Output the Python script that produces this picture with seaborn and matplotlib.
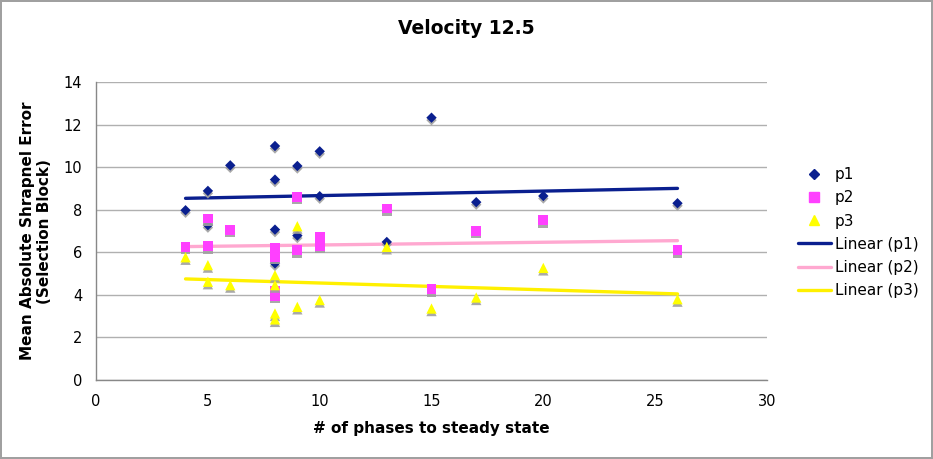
import matplotlib
matplotlib.use("Agg")
import matplotlib.pyplot as plt
import matplotlib.patheffects as pe
from matplotlib.lines import Line2D
import seaborn as sns
import pandas as pd

# ---- data ----
p1_x = [4, 5, 5, 6, 8, 8, 8, 8, 9, 9, 10, 10, 13, 15, 17, 20, 26]
p1_y = [7.98, 8.89, 7.28, 10.09, 11.0, 9.42, 7.07, 5.48, 10.06, 6.79, 10.75, 8.64, 6.49, 12.33, 8.36, 8.65, 8.31]

p2_x = [4, 5, 5, 6, 8, 8, 8, 8, 9, 9, 10, 10, 13, 15, 17, 20, 26]
p2_y = [6.27, 7.59, 6.29, 7.07, 6.2, 5.8, 4.2, 3.95, 8.6, 6.1, 6.75, 6.3, 8.06, 4.26, 7.01, 7.51, 6.1]

p3_x = [4, 5, 5, 6, 8, 8, 8, 8, 9, 9, 10, 13, 15, 17, 20, 26]
p3_y = [5.77, 5.4, 4.62, 4.46, 4.93, 4.46, 3.13, 2.85, 7.23, 3.44, 3.76, 6.26, 3.36, 3.88, 5.27, 3.8]

series = ["p1", "p2", "p3"]
marker_colors = ["#0A1F8F", "#FF40FF", "#FFFF00"]
line_colors = ["#0A1F8F", "#FFA8D0", "#FFF000"]
markers = ["D", "s", "^"]
marker_sizes = [28, 50, 55]

x_ticks = [0, 5, 10, 15, 20, 25, 30]
y_ticks = [0, 2, 4, 6, 8, 10, 12, 14]

df = pd.concat([
    pd.DataFrame({"x": p1_x, "y": p1_y, "s": "p1"}),
    pd.DataFrame({"x": p2_x, "y": p2_y, "s": "p2"}),
    pd.DataFrame({"x": p3_x, "y": p3_y, "s": "p3"}),
])

sns.set_theme(style="white")
plt.rcParams["font.family"] = ["DejaVu Sans"]
plt.rcParams["text.color"] = "black"
plt.rcParams["axes.labelcolor"] = "black"

fig = plt.figure(figsize=(9.33, 4.59), dpi=100)
fig.patch.set_facecolor("white")
fig.patch.set_edgecolor("#A0A0A0")
fig.patch.set_linewidth(1.5)
ax = fig.add_axes([0.103, 0.172, 0.719, 0.649])

shadow = [pe.SimplePatchShadow(offset=(0, -1.8), shadow_rgbFace="#A0A0A0", alpha=0.9), pe.Normal()]

for name, mc, mk, ms in zip(series, marker_colors, markers, marker_sizes):
    sub = df[df["s"] == name]
    sns.scatterplot(data=sub, x="x", y="y", ax=ax, color=mc, marker=mk, s=ms,
                    edgecolor="none", linewidth=0, zorder=4, legend=False)
for name, lc in zip(series, line_colors):
    sub = df[df["s"] == name]
    sns.regplot(data=sub, x="x", y="y", ax=ax, scatter=False, ci=None, truncate=True,
                line_kws={"color": lc, "lw": 2.4, "zorder": 3})

for coll in ax.collections:
    coll.set_path_effects(shadow)

ax.set_xlim(0, 30)
ax.set_ylim(0, 14)
ax.set_xticks(x_ticks)
ax.set_yticks(y_ticks)
ax.grid(axis="y", color="#B0B0B0", lw=1.0)
ax.set_axisbelow(True)
for sp in ["top", "right"]:
    ax.spines[sp].set_visible(False)
for sp in ["left", "bottom"]:
    ax.spines[sp].set_color("#888888")
    ax.spines[sp].set_linewidth(1.0)
ax.tick_params(axis="both", direction="out", length=4, width=1, color="#888888",
               labelsize=10.5, labelcolor="black", pad=6)

ax.set_xlabel("# of phases to steady state", fontsize=11, fontweight="bold", labelpad=9)
ax.set_ylabel("Mean Absolute Shrapnel Error\n(Selection Block)", fontsize=11, fontweight="bold", labelpad=8)
fig.suptitle("Velocity 12.5", fontsize=13.5, fontweight="bold", y=0.958)

# legend
leg_handles = []
for name, mc, mk in zip(series, marker_colors, markers):
    leg_handles.append(Line2D([], [], ls="none", marker=mk, color=mc,
                              markersize=7 if mk != "D" else 5.5, label=name))
for name, lc in zip(series, line_colors):
    leg_handles.append(Line2D([], [], color=lc, lw=2.4, label=f"Linear ({name})"))
fig.legend(handles=leg_handles, loc="upper left", bbox_to_anchor=(0.855, 0.636), frameon=False,
           borderaxespad=0, borderpad=0, fontsize=11, handlelength=2.15,
           labelspacing=0.54, handletextpad=0.28)

fig.savefig("out.png", dpi=100)
